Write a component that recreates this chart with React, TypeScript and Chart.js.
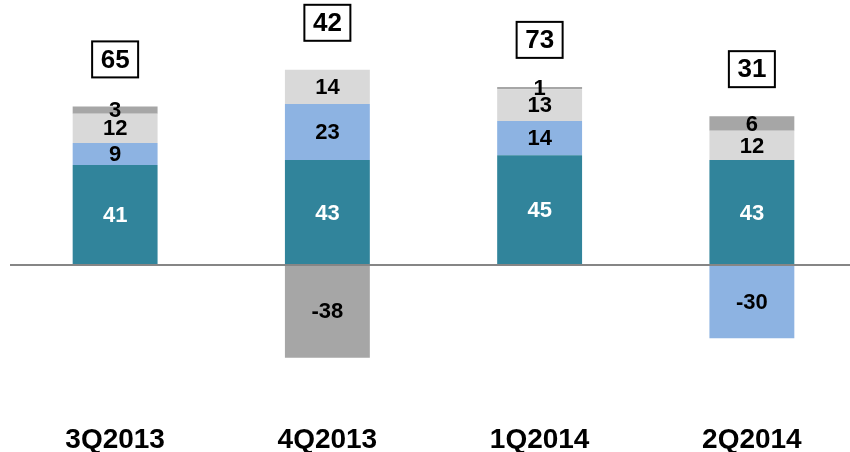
import React, { useEffect, useRef } from "react";
import { Chart, registerables } from "chart.js";

Chart.register(...registerables);

const categories = ["3Q2013", "4Q2013", "1Q2014", "2Q2014"];
const tealValues = [41, 43, 45, 43];
const lightBlueValues = [9, 23, 14, -30];
const lightGreyValues = [12, 14, 13, 12];
const darkGreyValues = [3, -38, 1, 6];
const totals = [65, 42, 73, 31];

const COLORS = ["#31849B", "#8DB3E2", "#D9D9D9", "#A6A6A6"];
const FONT = "'Liberation Sans', Arial, sans-serif";

const labelPlugin = {
  id: "segmentLabels",
  afterDatasetsDraw(chart: any) {
    const ctx = chart.ctx;
    const yScale = chart.scales.y;
    const area = chart.chartArea;
    ctx.save();
    // zero line
    const y0 = yScale.getPixelForValue(0);
    ctx.strokeStyle = "#868686";
    ctx.lineWidth = 2;
    ctx.beginPath();
    ctx.moveTo(area.left + 1, y0);
    ctx.lineTo(area.right, y0);
    ctx.stroke();

    ctx.textAlign = "center";
    ctx.textBaseline = "middle";
    chart.data.datasets.forEach((ds: any, di: number) => {
      const meta = chart.getDatasetMeta(di);
      meta.data.forEach((el: any, i: number) => {
        const v = ds.data[i];
        ctx.font = `bold 22px ${FONT}`;
        ctx.fillStyle = di === 0 ? "#ffffff" : "#000000";
        ctx.fillText(String(v), el.x, (el.y + el.base) / 2 + 1);
      });
    });

    // total boxes
    categories.forEach((_c, i) => {
      let pos = 0;
      chart.data.datasets.forEach((ds: any) => {
        const v = ds.data[i];
        if (v > 0) pos += v;
      });
      const top = yScale.getPixelForValue(pos);
      const el = chart.getDatasetMeta(0).data[i];
      const cx = el.x;
      const cy = top - 47;
      const w = 46;
      const h = 36;
      ctx.fillStyle = "#ffffff";
      ctx.fillRect(cx - w / 2, cy - h / 2, w, h);
      ctx.lineWidth = 2;
      ctx.strokeStyle = "#000000";
      ctx.strokeRect(cx - w / 2, cy - h / 2, w, h);
      ctx.fillStyle = "#000000";
      ctx.font = `bold 26px ${FONT}`;
      ctx.fillText(String(totals[i]), cx, cy + 1);
    });
    ctx.restore();
  },
};

export default function App() {
  const canvasRef = useRef<HTMLCanvasElement | null>(null);

  useEffect(() => {
    if (!canvasRef.current) return;
    const seriesList = [tealValues, lightBlueValues, lightGreyValues, darkGreyValues];
    const chart = new Chart(canvasRef.current, {
      type: "bar",
      data: {
        labels: categories,
        datasets: seriesList.map((vals, i) => ({
          label: `s${i}`,
          data: vals,
          backgroundColor: COLORS[i],
          borderWidth: 0,
          barPercentage: 0.4,
          categoryPercentage: 1,
        })),
      },
      options: {
        animation: false,
        responsive: true,
        maintainAspectRatio: false,
        layout: { padding: { left: 9, right: 2, top: 21, bottom: 0 } },
        plugins: {
          legend: { display: false },
          tooltip: { enabled: false },
        },
        scales: {
          x: {
            stacked: true,
            grid: { display: false, drawTicks: false },
            border: { display: false },
            afterFit: (scale: any) => {
              scale.height = 65;
            },
            ticks: {
              color: "#000000",
              padding: 36,
              font: { family: FONT, size: 28, weight: "bold" },
            },
          },
          y: {
            stacked: true,
            min: -50,
            max: 100,
            grid: { display: false, drawTicks: false },
            border: { display: false },
            ticks: { display: false },
          },
        },
      },
      plugins: [labelPlugin],
    });
    return () => chart.destroy();
  }, []);

  return (
    <div style={{ position: "fixed", left: 0, top: 0, width: 860, height: 452, background: "#fff" }}>
      <canvas ref={canvasRef} />
    </div>
  );
}
